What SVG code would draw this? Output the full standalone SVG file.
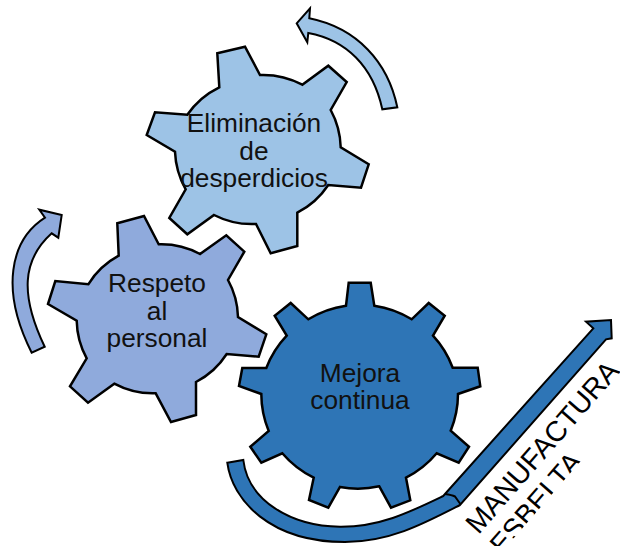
<svg xmlns="http://www.w3.org/2000/svg" width="620" height="546" viewBox="0 0 620 546">
<style>
.g{stroke:#000;stroke-width:2.5;stroke-linejoin:miter}
.a{stroke:#000;stroke-width:2;stroke-linejoin:miter}
.t{font-family:"Liberation Sans",Arial,sans-serif;font-size:26.3px;fill:#111;text-anchor:middle}
.m{font-family:"Liberation Sans",Arial,sans-serif;font-size:28.5px;fill:#000}
.light{fill:#9DC3E6}.mid{fill:#8FAADC}.dark{fill:#2E75B6}
</style>
<defs>
<clipPath id="c"><rect x="-130" y="-30" width="300" height="58.5"/></clipPath>
</defs>
<rect width="620" height="546" fill="#fff"/>
<g id="connectors">
<path id="arrow-top" class="a light" d="M296.7 23.3L310 8.3L309.3 18.3C357 28 388 62 397.3 107.3L382.3 109.3C373 66 346 40 308.3 33L307.3 42.3Z"/>
<path id="arrow-left" class="a mid" d="M61.7 215L39.3 209.7L45 217.7C10 240 0 290 31.7 352.7L44.7 346.7C20 295 22 260 51.7 233.3L58.3 237.7Z"/>
<path id="arrow-bottom" class="a dark" d="M227.3 462.7L243.3 460C248 500 290 526 340 526.7C380 527 410 512 443.3 496L445 494L593.3 328.3L586 321.7L611 320L611.7 338.3L606 339.3L460 505C425 523 390 542 345 542C270 542 232 500 227.3 462.7Z"/>
<path class="a" fill="none" d="M445 494Q452 495 455 496.5L460.7 504.5"/>
</g>
<g id="node-eliminacion">
<path class="g light" d="M217.3 53.3L245 46.7L260 75A83 83 0 0 1 302.3 84.7L328.3 65.7L346.7 82L330.7 110A83 83 0 0 1 340.7 147.3L368.7 164.3L361 187.7L328.3 185A83 83 0 0 1 297.3 212.7L297.3 246L270.7 253.3L256 224A83 83 0 0 1 214 215L187.3 234.3L169.3 218L185.7 189.3A83 83 0 0 1 175 151.7L146.7 135L155 112.3L187.3 114.7A83 83 0 0 1 219.3 87.3Z"/>
<text class="t" x="254" y="132">Eliminación</text>
<text class="t" x="254" y="160">de</text>
<text class="t" x="254" y="187">desperdicios</text>
</g>
<g id="node-respeto">
<path class="g mid" d="M117.3 223.3L144 216L158.7 244.3A81 81 0 0 1 200 254L226.3 235.3L244.3 251.7L228 280A81 81 0 0 1 238 317L266.3 334.3L258.7 356.7L226.7 354A81 81 0 0 1 196 382L196 415L171 422L155.7 393.3A81 81 0 0 1 114.3 383.7L88 402.7L70 386.3L86.7 358.3A81 81 0 0 1 76.7 320.7L48 304L55.3 281L88.3 284.3A81 81 0 0 1 118.7 255.7Z"/>
<text class="t" x="157" y="292">Respeto</text>
<text class="t" x="157" y="320">al</text>
<text class="t" x="157" y="347">personal</text>
</g>
<g id="node-mejora">
<path class="g dark" d="M348.7 282.7L370.7 282.7L374.3 305.7A98 98 0 0 1 411.7 319.3L428.7 303L444.7 315.7L433 335.7A98 98 0 0 1 452.7 367.7L477.7 367.7L480.3 386.3L458 394A98 98 0 0 1 450.7 430.7L469 446.7L458.7 462.7L436.7 453.3A98 98 0 0 1 406 477.7L410.3 500.3L391 507.7L379.3 486.3A98 98 0 0 1 340 487L328.3 507.7L309 500L313.7 477.7A98 98 0 0 1 282.3 453.3L261.3 462.7L250.3 446.7L268.7 431A98 98 0 0 1 261.3 394L239 386L242.3 368L266.3 368A98 98 0 0 1 286.7 335.7L274.7 315.7L290.7 303L308.3 319.3A98 98 0 0 1 346 305.7Z"/>
<text class="t" x="360" y="382">Mejora</text>
<text class="t" x="360" y="409">continua</text>
</g>
<g id="label" transform="translate(550 453) rotate(-49)">
<g clip-path="url(#c)">
<text class="m" x="-109" y="0">MANUFACTURA</text>
<text class="m" x="-109" y="32">ESBELTA</text>
</g>
</g>
</svg>
